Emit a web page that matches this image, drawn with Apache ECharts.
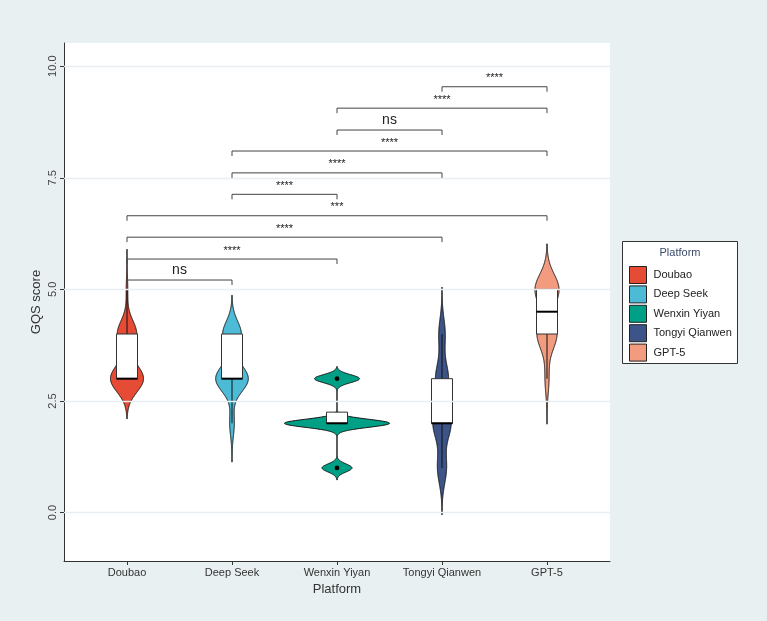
<!DOCTYPE html>
<html>
<head>
<meta charset="utf-8">
<script src="https://cdn.jsdelivr.net/npm/echarts@6/dist/echarts.min.js"></script>
<style>
html,body{margin:0;padding:0;background:#e9f0f2;}
#main{width:767px;height:621px;}
</style>
</head>
<body>
<div id="main"></div>
<script>
var platforms = ['Doubao', 'Deep Seek', 'Wenxin Yiyan', 'Tongyi Qianwen', 'GPT-5'];
var colors = ['#E64B35', '#4DBBD5', '#00A087', '#3C5488', '#F39B7F'];
var scores = [1, 2, 3, 4, 5];
// answers per GQS score 1..5
var countsDoubao = [0, 0, 22, 13, 1];
var countsDeepSeek = [0, 3, 21, 12, 0];
var countsWenxin = [6, 21, 9, 0, 0];
var countsTongyi = [7, 14, 10, 5, 0];
var countsGPT5 = [0, 0, 3, 15, 18];
// kernel bandwidth of each violin
var bandwidths = [0.30, 0.29, 0.09, 0.35, 0.34];
var yTicks = [0, 2.5, 5, 7.5, 10];
// significance brackets (index into platforms)
var bracketFrom = [0, 0, 0, 0, 1, 1, 1, 2, 2, 3];
var bracketTo = [1, 2, 3, 4, 2, 3, 4, 3, 4, 4];
var bracketY = [5.21, 5.68, 6.17, 6.65, 7.13, 7.61, 8.10, 8.57, 9.06, 9.54];
var bracketLabel = ['ns', '****', '****', '***', '****', '****', '****', 'ns', '****', '****'];

var allCounts = [countsDoubao, countsDeepSeek, countsWenxin, countsTongyi, countsGPT5];
var FONT = '"Liberation Sans", Arial, sans-serif';

function expand(counts) {
    var out = [];
    counts.forEach(function (c, k) {
        for (var j = 0; j < c; j++) out.push(scores[k]);
    });
    return out;
}
function quantile(s, p) {
    var h = (s.length - 1) * p, lo = Math.floor(h);
    var hi = Math.min(lo + 1, s.length - 1);
    return s[lo] + (h - lo) * (s[hi] - s[lo]);
}
function boxStats(counts) {
    var s = expand(counts);
    var q1 = quantile(s, 0.25), med = quantile(s, 0.5), q3 = quantile(s, 0.75);
    var iqr = q3 - q1;
    var inside = s.filter(function (v) { return v >= q1 - 1.5 * iqr && v <= q3 + 1.5 * iqr; });
    var out = s.filter(function (v) { return v < q1 - 1.5 * iqr || v > q3 + 1.5 * iqr; });
    out = out.filter(function (v, k) { return out.indexOf(v) === k; });
    return { q1: q1, med: med, q3: q3, lo: Math.min.apply(null, inside), hi: Math.max.apply(null, inside), out: out };
}
// gaussian kernel density, trim = FALSE (3 bandwidths past data)
function density(counts, bw) {
    var s = expand(counts), n = s.length;
    var a = s[0] - 3 * bw, b = s[n - 1] + 3 * bw;
    var ys = [], fs = [];
    for (var j = 0; j < 512; j++) {
        var y = a + (b - a) * j / 511, f = 0;
        counts.forEach(function (c, k) {
            if (!c) return;
            var z = (y - scores[k]) / bw;
            f += c / n * Math.exp(-0.5 * z * z) / (bw * Math.sqrt(2 * Math.PI));
        });
        ys.push(y); fs.push(f);
    }
    return { ys: ys, fs: fs };
}

var dens = allCounts.map(function (c, i) { return density(c, bandwidths[i]); });
var stats = allCounts.map(boxStats);
var maxF = Math.max.apply(null, dens.map(function (d) { return Math.max.apply(null, d.fs); }));

function violinItem(i) {
    return function (params, api) {
        var x = api.value(0);
        var d = dens[i], st = stats[i];
        var pts = [];
        for (var j = 0; j < d.ys.length; j++) pts.push(api.coord([x + d.fs[j] / maxF * 0.5, d.ys[j]]));
        for (var j = d.ys.length - 1; j >= 0; j--) pts.push(api.coord([x - d.fs[j] / maxF * 0.5, d.ys[j]]));
        var tl = api.coord([x - 0.1, st.q3]), br = api.coord([x + 0.1, st.q1]);
        var c = api.coord([x, 0])[0];
        var kids = [
            { type: 'polygon', shape: { points: pts }, style: { fill: colors[i], stroke: '#111', lineWidth: 1 } },
            { type: 'line', shape: { x1: c, y1: api.coord([x, st.q3])[1], x2: c, y2: api.coord([x, st.hi])[1] }, style: { stroke: '#111', lineWidth: 1 } },
            { type: 'line', shape: { x1: c, y1: api.coord([x, st.q1])[1], x2: c, y2: api.coord([x, st.lo])[1] }, style: { stroke: '#111', lineWidth: 1 } },
            { type: 'rect', shape: { x: tl[0], y: tl[1], width: br[0] - tl[0], height: br[1] - tl[1] }, style: { fill: '#fff', stroke: '#333', lineWidth: 1 } },
            { type: 'line', shape: { x1: tl[0], y1: api.coord([x, st.med])[1], x2: br[0], y2: api.coord([x, st.med])[1] }, style: { stroke: '#000', lineWidth: 2 } }
        ];
        st.out.forEach(function (v) {
            var p = api.coord([x, v]);
            kids.push({ type: 'circle', shape: { cx: p[0], cy: p[1], r: 2.4 }, style: { fill: '#000' } });
        });
        return { type: 'group', children: kids };
    };
}

function bracketItem(params, api) {
    var p1 = api.coord([api.value(0), api.value(2)]);
    var p2 = api.coord([api.value(1), api.value(2)]);
    var lab = bracketLabel[api.value(3)];
    return {
        type: 'group',
        children: [
            { type: 'polyline', shape: { points: [[p1[0], p1[1] + 5], p1, p2, [p2[0], p2[1] + 5]] }, style: { fill: 'none', stroke: '#444', lineWidth: 1 } },
            { type: 'text', x: (p1[0] + p2[0]) / 2, y: p1[1] - 3, style: { text: lab, align: 'center', verticalAlign: 'bottom', fontFamily: FONT, fontSize: lab === 'ns' ? 14 : 11, fill: '#222' } }
        ]
    };
}

var series = [{
    type: 'line',
    data: [],
    z: 1,
    markLine: {
        silent: true,
        symbol: ['none', 'none'],
        label: { show: false },
        lineStyle: { color: '#e8eef1', width: 1.3, type: 'solid' },
        data: yTicks.map(function (v) { return { yAxis: v }; })
    }
}];
platforms.forEach(function (name, i) {
    series.push({
        name: name,
        type: 'custom',
        itemStyle: { color: colors[i] },
        encode: { x: 0, y: 1 },
        data: [[i + 1, 0]],
        renderItem: violinItem(i)
    });
});
series.push({
    type: 'custom',
    z: 5,
    encode: { x: [0, 1], y: 2 },
    data: bracketFrom.map(function (f, k) { return [f + 1, bracketTo[k] + 1, bracketY[k], k]; }),
    renderItem: bracketItem
});

var chart = echarts.init(document.getElementById('main'));
chart.setOption({
    backgroundColor: '#e9f0f2',
    animation: false,
    textStyle: { fontFamily: FONT },
    grid: { left: 64, right: 157, top: 43, bottom: 60, show: true, backgroundColor: '#fff', borderWidth: 0 },
    xAxis: {
        type: 'value',
        min: 0.4,
        max: 5.6,
        name: 'Platform',
        nameLocation: 'middle',
        nameGap: 21,
        nameTextStyle: { fontSize: 13, color: '#333' },
        axisLine: { show: true, onZero: false, lineStyle: { color: '#333', width: 1 } },
        axisTick: { show: true, length: 4, customValues: [1, 2, 3, 4, 5], lineStyle: { color: '#333' } },
        axisLabel: {
            customValues: [1, 2, 3, 4, 5],
            margin: 6,
            fontSize: 11,
            color: '#333',
            formatter: function (v) { return platforms[Math.round(v) - 1]; }
        },
        splitLine: { show: false }
    },
    yAxis: {
        type: 'value',
        min: -1.085,
        max: 10.52,
        name: 'GQS score',
        nameLocation: 'middle',
        nameGap: 21,
        nameMoveOverlap: false,
        nameRotate: 90,
        nameTextStyle: { fontSize: 13, color: '#333' },
        axisLine: { show: true, onZero: false, lineStyle: { color: '#333', width: 1 } },
        axisTick: { show: true, length: 4, customValues: yTicks, lineStyle: { color: '#333' } },
        axisLabel: {
            customValues: yTicks,
            rotate: 90,
            margin: 6,
            fontSize: 11,
            color: '#444',
            formatter: function (v) { return v.toFixed(1); }
        },
        splitLine: { show: false }
    },
    legend: {
        orient: 'vertical',
        left: 629,
        top: 266,
        padding: 0,
        itemWidth: 17,
        itemHeight: 17,
        itemGap: 1.4,
        selectedMode: false,
        itemStyle: { borderColor: '#222', borderWidth: 1 },
        textStyle: { fontSize: 11, color: '#222', padding: [0, 0, 0, 2] },
        data: platforms.map(function (n) { return { name: n, icon: 'rect' }; })
    },
    graphic: [
        { type: 'rect', z: 0, shape: { x: 622.5, y: 241.5, width: 115, height: 122 }, style: { fill: '#fff', stroke: '#333', lineWidth: 1 } },
        { type: 'text', z: 1, x: 680, y: 253, style: { text: 'Platform', align: 'center', verticalAlign: 'middle', fontFamily: FONT, fontSize: 11, fill: '#3b4a6b' } }
    ],
    series: series
});
</script>
</body>
</html>
